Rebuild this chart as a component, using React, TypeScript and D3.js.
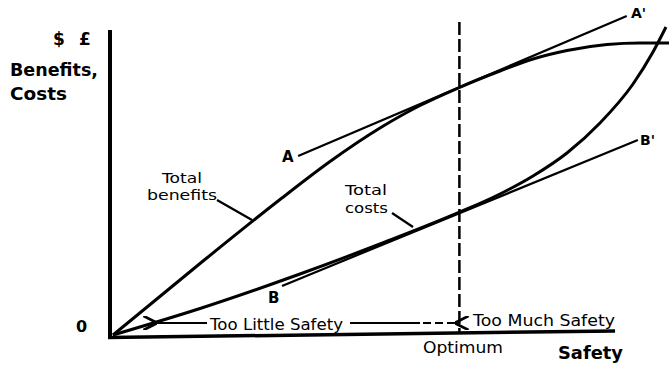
import React from "react";
import * as d3 from "d3";

// Safety (0-100) vs. value (0-100)
const benefitsX = [0, 15.65, 30.04, 39.03, 48.02, 55.22, 62.05, 69.6, 75.54, 81.65, 88.85, 94.78, 100];
const benefitsY = [0, 23.44, 44.43, 56.89, 67.87, 75.25, 80.98, 86.56, 90.49, 93.28, 95.25, 95.74, 95.74];

const costsX = [0, 15.65, 33.63, 48.02, 62.41, 69.6, 75.54, 81.65, 87.59, 93.53, 97.12, 99.46];
const costsY = [0, 8.69, 20.0, 29.84, 40.33, 46.23, 52.13, 59.67, 69.51, 82.3, 92.79, 100.98];

const tangentAX = [33.3, 92.4];
const tangentAY = [58.7, 104.6];
const tangentBX = [30.4, 94.4];
const tangentBY = [16.1, 63.9];

const optimumX = 62.3;

const W = 669;
const H = 371;

export default function App() {
  const x = d3.scaleLinear().domain([0, 100]).range([113, 669]);
  const y = d3.scaleLinear().domain([0, 100]).range([335, 30]);

  const line = d3
    .line<[number, number]>()
    .x((d) => x(d[0]))
    .y((d) => y(d[1]))
    .curve(d3.curveMonotoneX);
  const straight = d3
    .line<[number, number]>()
    .x((d) => x(d[0]))
    .y((d) => y(d[1]));

  const benefits = benefitsX.map((v, i) => [v, benefitsY[i]] as [number, number]);
  const costs = costsX.map((v, i) => [v, costsY[i]] as [number, number]);
  const tA = tangentAX.map((v, i) => [v, tangentAY[i]] as [number, number]);
  const tB = tangentBX.map((v, i) => [v, tangentBY[i]] as [number, number]);

  const font = "'DejaVu Sans', sans-serif";
  const ox = x(0);
  const oy = y(0);
  const optX = x(optimumX);

  return (
    <svg
      width={W}
      height={H}
      style={{ position: "absolute", left: 0, top: 0, background: "#fff" }}
      fontFamily={font}
    >
      <defs>
        <marker id="arrL" viewBox="0 0 10 10" refX="1" refY="5" markerWidth="7" markerHeight="7" orient="auto-start-reverse">
          <path d="M0,5 L10,0 M0,5 L10,10" stroke="#000" strokeWidth="2" fill="none" />
        </marker>
      </defs>

      {/* axes */}
      <line x1={ox - 3} y1={y(100)} x2={ox - 3} y2={oy + 4} stroke="#000" strokeWidth={4} />
      <line x1={ox - 5} y1={oy + 2.5} x2={x(90.3)} y2={oy - 4} stroke="#000" strokeWidth={3.5} />

      {/* optimum dashed line */}
      <line x1={optX} y1={22} x2={optX} y2={oy - 2} stroke="#000" strokeWidth={2.5} strokeDasharray="13 4" />

      {/* curves */}
      <path d={line(benefits) || ""} fill="none" stroke="#000" strokeWidth={3} />
      <path d={line(costs) || ""} fill="none" stroke="#000" strokeWidth={3} />
      <path d={straight(tA) || ""} fill="none" stroke="#000" strokeWidth={2.2} />
      <path d={straight(tB) || ""} fill="none" stroke="#000" strokeWidth={2.2} />

      {/* leaders */}
      <line x1={217} y1={200} x2={252} y2={220} stroke="#000" strokeWidth={2.2} />
      <line x1={392} y1={213} x2={413} y2={227} stroke="#000" strokeWidth={2.2} />

      {/* too little safety arrows */}
      <line x1={207} y1={323} x2={156} y2={323} stroke="#000" strokeWidth={2} markerEnd="url(#arrL)" />
      <line x1={350} y1={323} x2={420} y2={323} stroke="#000" strokeWidth={2} />
      <line x1={423} y1={323} x2={456} y2={323} stroke="#000" strokeWidth={2} strokeDasharray="8 4" markerEnd="url(#arrL)" />

      {/* y-axis labels */}
      <text x={53} y={45} fontSize={17} fontWeight="bold">$</text>
      <text x={79} y={45} fontSize={17} fontWeight="bold">£</text>
      <text x={10} y={76} fontSize={17} fontWeight="bold" textLength={88} lengthAdjust="spacingAndGlyphs">Benefits,</text>
      <text x={10} y={100} fontSize={17} fontWeight="bold" textLength={57} lengthAdjust="spacingAndGlyphs">Costs</text>
      <text x={76} y={332} fontSize={16} fontWeight="bold">0</text>

      {/* curve labels */}
      <text x={162} y={183} fontSize={14} textLength={40} lengthAdjust="spacingAndGlyphs">Total</text>
      <text x={147} y={200} fontSize={14} textLength={70} lengthAdjust="spacingAndGlyphs">benefits</text>
      <text x={345} y={195} fontSize={14} textLength={42} lengthAdjust="spacingAndGlyphs">Total</text>
      <text x={345} y={213} fontSize={14} textLength={43} lengthAdjust="spacingAndGlyphs">costs</text>

      <text x={282} y={162} fontSize={15} fontWeight="600">A</text>
      <text x={631} y={18} fontSize={14} fontWeight="600">A'</text>
      <text x={268} y={303} fontSize={15} fontWeight="600">B</text>
      <text x={640} y={145} fontSize={14} fontWeight="600">B'</text>

      {/* x-axis labels */}
      <text x={210} y={330} fontSize={15} textLength={133} lengthAdjust="spacingAndGlyphs">Too Little Safety</text>
      <text x={473} y={326} fontSize={15} textLength={142} lengthAdjust="spacingAndGlyphs">Too Much Safety</text>
      <text x={423} y={353} fontSize={15} textLength={80} lengthAdjust="spacingAndGlyphs">Optimum</text>
      <text x={558} y={359} fontSize={18} fontWeight="bold" textLength={65} lengthAdjust="spacingAndGlyphs">Safety</text>
    </svg>
  );
}
